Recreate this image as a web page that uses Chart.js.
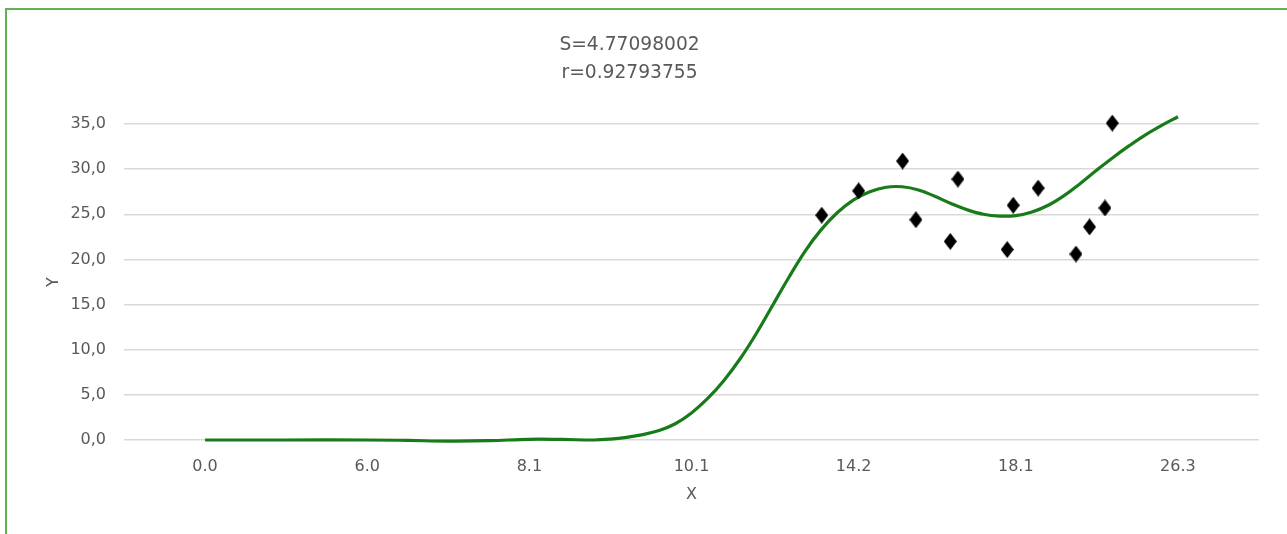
<!DOCTYPE html>
<html>
<head>
<meta charset="utf-8">
<script src="https://cdn.jsdelivr.net/npm/chart.js@4"></script>
<style>
  html, body { margin: 0; padding: 0; background: #fff; width: 1287px; height: 534px; overflow: hidden; }
  #frame { position: absolute; left: 5px; top: 8px; width: 2000px; height: 2000px; border-left: 2px solid #64ae55; border-top: 2px solid #64ae55; }
  #wrap { position: absolute; left: 0; top: 0; width: 1287px; height: 534px; }
</style>
</head>
<body>
<div id="frame"></div>
<div id="wrap"><canvas id="c" width="1287" height="534"></canvas></div>
<script>
// Category tick labels of the X axis (evenly spaced categories)
const xLabels = ['0.0', '6.0', '8.1', '10.1', '14.2', '18.1', '26.3'];
const titleLines = ['S=4.77098002', 'r=0.92793755'];

// Observed points (x in category-index units, y values)
const obsX = [3.803, 4.031, 4.302, 4.384, 4.596, 4.643, 4.947, 4.984, 5.138, 5.371, 5.455, 5.550, 5.595];
const obsY = [24.9, 27.6, 30.9, 24.4, 22.0, 28.9, 21.1, 26.0, 27.9, 20.6, 23.6, 25.7, 35.1];

// Fitted smooth curve (x in category-index units, y values)
const fitX = [0, 0.5, 1.0, 1.25, 1.5, 1.75, 2.0, 2.2, 2.4, 2.5, 2.6, 2.7, 2.8, 2.9, 3.0, 3.1, 3.2, 3.3, 3.4, 3.5, 3.6, 3.7, 3.8, 3.9, 4.0, 4.1, 4.2, 4.3, 4.4, 4.5, 4.6, 4.7, 4.8, 4.9, 5.0, 5.1, 5.2, 5.3, 5.4, 5.5, 5.6, 5.7, 5.8, 5.9, 6.0];
const fitY = [0, 0, 0, -0.05, -0.12, -0.08, 0.08, 0.06, 0.0, 0.1, 0.3, 0.6, 1.05, 1.8, 3.0, 4.6, 6.6, 9.0, 11.8, 14.9, 18.0, 20.9, 23.3, 25.2, 26.6, 27.5, 28.0, 28.05, 27.7, 27.0, 26.2, 25.5, 25.0, 24.8, 24.85, 25.25, 26.0, 27.1, 28.45, 29.9, 31.3, 32.6, 33.8, 34.85, 35.8];

// Y tick values
const yTicks = [0, 5, 10, 15, 20, 25, 30, 35];

const diamond = document.createElement('canvas');
diamond.width = 13; diamond.height = 17;
(function () {
  const g = diamond.getContext('2d');
  g.fillStyle = '#000';
  g.beginPath();
  g.moveTo(6.5, 0); g.lineTo(13, 8.5); g.lineTo(6.5, 17); g.lineTo(0, 8.5);
  g.closePath(); g.fill();
})();

const textColor = '#595959';
const fam = '"DejaVu Sans", Verdana, sans-serif';

new Chart(document.getElementById('c'), {
  type: 'scatter',
  data: {
    datasets: [
      {
        label: 'obs',
        data: obsX.map((x, i) => ({ x: x, y: obsY[i] })),
        pointStyle: diamond,
        pointRadius: 7,
        showLine: false,
        clip: false,
        order: 0
      },
      {
        label: 'fit',
        data: fitX.map((x, i) => ({ x: x, y: fitY[i] })),
        showLine: true,
        borderColor: '#187a18',
        borderWidth: 3.2,
        pointRadius: 0,
        tension: 0.4,
        fill: false,
        clip: false,
        order: 1
      }
    ]
  },
  options: {
    responsive: false,
    animation: false,
    layout: { padding: { left: 0, right: 28, top: 0, bottom: 0 } },
    plugins: {
      legend: { display: false },
      tooltip: { enabled: false },
      title: {
        display: true,
        text: titleLines,
        color: textColor,
        font: { family: fam, size: 18.67, weight: 'normal', lineHeight: 1.5 },
        padding: { top: 31, bottom: 37 }
      }
    },
    scales: {
      x: {
        type: 'linear',
        min: -0.5,
        max: xLabels.length - 0.5,
        afterBuildTicks: (s) => { s.ticks = xLabels.map((_, i) => ({ value: i })); },
        afterFit: (s) => { s.height = 94; },
        grid: { display: false, drawTicks: false },
        border: { display: false },
        ticks: {
          padding: 17,
          color: textColor,
          font: { family: fam, size: 16 },
          maxRotation: 0,
          autoSkip: false,
          callback: (v) => xLabels[Math.round(v)] ?? ''
        },
        title: {
          display: true,
          text: 'X',
          color: textColor,
          font: { family: fam, size: 16 },
          padding: { top: 0, bottom: 30 }
        }
      },
      y: {
        type: 'linear',
        min: 0,
        max: 35,
        afterBuildTicks: (s) => { s.ticks = yTicks.map(v => ({ value: v })); },
        afterFit: (s) => { s.width = 124; },
        grid: { color: '#d9d9d9', lineWidth: 1.5, drawTicks: false },
        border: { display: false },
        ticks: {
          padding: 18,
          color: textColor,
          font: { family: fam, size: 16 },
          callback: (v) => v.toFixed(1).replace('.', ',')
        },
        title: {
          display: true,
          text: 'Y',
          color: textColor,
          font: { family: fam, size: 16 },
          padding: { top: 44, bottom: 0 }
        }
      }
    }
  }
});
</script>
</body>
</html>
